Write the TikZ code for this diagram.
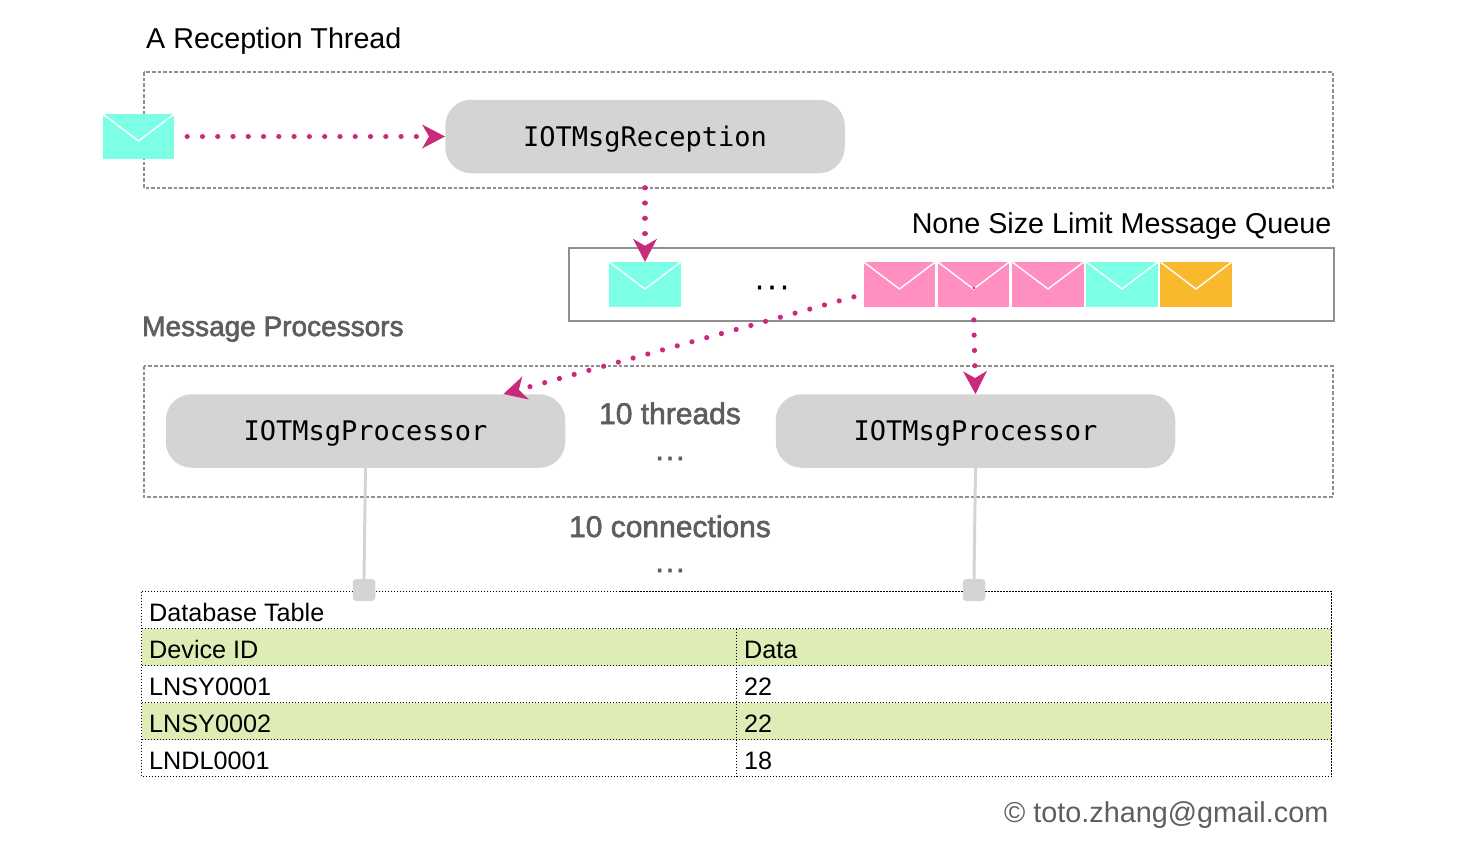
\documentclass[tikz,border=0pt]{standalone}
\usepackage{fontspec}
\setmainfont{Liberation Sans}
\newfontfamily\monoface{DejaVu Sans Mono}
\usetikzlibrary{arrows.meta,backgrounds}
\definecolor{envcyan}{HTML}{7DFFE6}
\definecolor{envpink}{HTML}{FF8FC1}
\definecolor{envorange}{HTML}{F8B92F}
\definecolor{flow}{HTML}{C92A7C}
\definecolor{boxgray}{HTML}{D4D4D4}
\definecolor{framegray}{HTML}{8F8F8F}
\definecolor{soft}{HTML}{5E5E5E}
\definecolor{rowgreen}{HTML}{DEEDB5}
\newcommand{\heavy}[1]{\special{pdf:code 2 Tr 0.6 w}#1\special{pdf:code 0 Tr 1 w}}
\tikzset{
  envelope/.style={rectangle,fill=#1,draw=none,minimum width=71.5pt,minimum height=45pt,inner sep=0pt,
    path picture={\draw[white,line width=1.4pt]
      (path picture bounding box.north west) -- ([yshift=-27pt]path picture bounding box.north)
      -- (path picture bounding box.north east);}},
  thread/.style={rectangle,draw=none,fill=boxgray,rounded corners=26pt,minimum width=399.5pt,
    minimum height=73.5pt,inner sep=0pt,text height=24pt,text depth=5pt,
    font=\monoface\fontsize{27}{27}\selectfont,text=black},
  dashframe/.style={draw=framegray,line width=1.6pt,dash pattern=on 3.6pt off 2pt},
  flowline/.style={draw=flow,line width=5.2pt,line cap=round,dash pattern=on 0.01pt off 15.27pt,
    -{Stealth[length=23pt,width=24pt,inset=7pt,round=false,line width=0pt,fill=flow]}},
  wire/.style={draw=boxgray,line width=3pt},
  plug/.style={rectangle,fill=boxgray,rounded corners=3.5pt,minimum width=22.5pt,minimum height=22pt,inner sep=0pt},
  txt/.style={anchor=base west,inner sep=0pt,font=\fontsize{28.7}{28.7}\selectfont},
  softtxt/.style={anchor=base,inner sep=0pt,text=soft,font=\fontsize{30}{30}\selectfont},
  celltxt/.style={anchor=base west,inner sep=0pt,font=\fontsize{25.2}{25.2}\selectfont},
  tablerule/.style={draw=black,line width=1pt,dash pattern=on 1.5pt off 1.5pt},
}
\newcommand{\threedots}[1]{.\kern#1.\kern#1.}
\begin{document}
\begin{tikzpicture}[x=1pt,y=-1pt]
\useasboundingbox (0,0) rectangle (1470,852);
% frames
\draw[dashframe] (144,72) rectangle (1333,188);
\draw[dashframe] (144,366) rectangle (1333,497);
\draw[draw=framegray,line width=2pt] (569,248) rectangle (1334,321);
% table
\fill[rowgreen] (141.5,628.5) rectangle (1331.5,665.5);
\fill[rowgreen] (141.5,702.5) rectangle (1331.5,739.5);
\draw[tablerule] (141.5,591.5) rectangle (1331.5,776.5);
\draw[tablerule] (141.5,628.5) -- (1331.5,628.5);
\draw[tablerule] (141.5,665.5) -- (1331.5,665.5);
\draw[tablerule] (141.5,702.5) -- (1331.5,702.5);
\draw[tablerule] (141.5,739.5) -- (1331.5,739.5);
\draw[tablerule] (736.5,628.5) -- (736.5,776.5);
\node[celltxt] (tt) at (149,621) {Database Table};
\node[celltxt] (c1) at (149,658) {Device ID};
\node[celltxt] (c2) at (744,658) {Data};
\node[celltxt] (c3) at (149,695) {LNSY0001};
\node[celltxt] (c4) at (744,695) {22};
\node[celltxt] (c5) at (149,732) {LNSY0002};
\node[celltxt] (c6) at (744,732) {22};
\node[celltxt] (c7) at (149,769) {LNDL0001};
\node[celltxt] (c8) at (744,769) {18};
% nodes
\node[thread] (recv) at (645,136.5) {IOTMsgReception};
\node[thread] (proc1) at (365.5,431) {IOTMsgProcessor};
\node[thread] (proc2) at (975.5,431) {IOTMsgProcessor};
\node[plug] (plug1) at (364,590) {};
\node[plug] (plug2) at (974,590) {};
% connectors behind envelopes
\draw[wire] (proc1.south) -- (plug1.north);
\draw[wire] (proc2.south) -- (plug2.north);
\node[envelope=envcyan] (m0) at (138.5,136.5) {};
\node[envelope=envcyan] (q0) at (645,284.5) {};
\node[envelope=envpink] (q1) at (899.5,284.5) {};
\node[envelope=envpink] (q2) at (973.5,284.5) {};
\node[envelope=envpink] (q3) at (1048,284.5) {};
\node[envelope=envcyan] (q4) at (1122,284.5) {};
\node[envelope=envorange] (q5) at (1196,284.5) {};
\draw[flowline,dash phase=2.57pt] (m0.east) -- (recv.west);
\draw[flowline,dash phase=1pt] (recv.south) -- (q0.north);
\draw[flowline,dash phase=5.3pt] (q1.195.5) -- (proc1.15.4);
\draw[flowline,dash phase=2.6pt] (q2.south) -- (proc2.north);
\fill[flow] (q2.center)+(0.5,3.5) circle (1.4pt);
% labels
\node[txt] (t1) at (146,48) {A Reception Thread};
\node[txt,anchor=base east] (t2) at (1331.5,233) {None Size Limit Message Queue};
\node[softtxt,anchor=base west,font=\fontsize{28}{28}\selectfont] (t3) at (142,336) {\heavy{Message Processors}};
\node[anchor=base,inner sep=0pt,font=\fontsize{28.7}{28.7}\selectfont] (t4) at (772,289) {\heavy{\threedots{4.5pt}}};
\node[softtxt] (t5) at (670,424) {\heavy{10 threads}};
\node[softtxt] (t6) at (670,460) {\heavy{\threedots{2pt}}};
\node[softtxt] (t7) at (670,537) {\heavy{10 connections}};
\node[softtxt] (t8) at (670,572) {\heavy{\threedots{2pt}}};
\node[anchor=base east,inner sep=0pt,text=soft,font=\fontsize{28.8}{28.8}\selectfont] (t9) at (1328.5,822) {© toto.zhang@gmail.com};
\end{tikzpicture}
\end{document}
